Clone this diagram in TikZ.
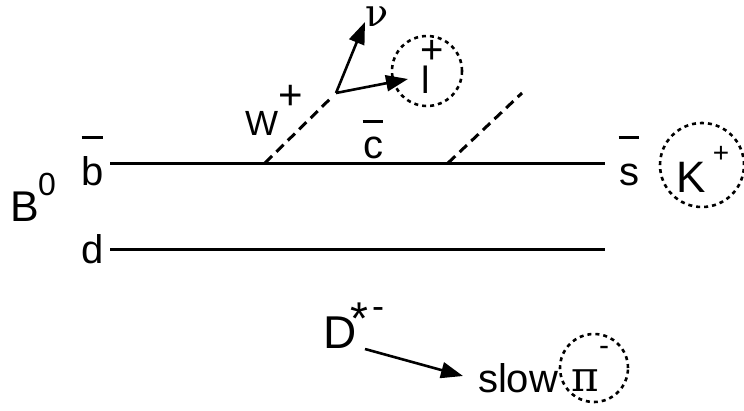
\documentclass[tikz,border=0pt]{standalone}
\usepackage{fontspec}
\setmainfont{Liberation Sans}
\newfontfamily\greekfont{DejaVu Serif}
\usetikzlibrary{arrows.meta}

% bar over an anti-quark letter, #1 = height of the bar
\newcommand{\antiq}[2][1.15em]{%
  \setbox0\hbox{#2}%
  \rlap{\hbox to \wd0{\hss\raisebox{#1}{\rule{0.52em}{2.8pt}}\hss}}\box0}
\newcommand{\fs}[1]{\fontsize{#1}{#1}\selectfont}

\begin{document}
\begin{tikzpicture}[
  x=1pt,
  y=-1pt,
  every node/.style={inner sep=0pt, outer sep=0pt},
  quark/.style={font=\fs{40}, anchor=base west},
  hadron/.style={font=\fs{44}, anchor=base west},
  charge/.style={anchor=center},
  line/.style={line width=3pt},
  boson/.style={line width=3pt, dash pattern=on 10pt off 6pt},
  blob/.style={
    draw,
    circle,
    line width=2.6pt,
    dash pattern=on 4pt off 4pt
  },
  arrow/.style={-{Triangle[length=22pt,width=16pt]}, line width=2.6pt}
]
  \useasboundingbox (0,0) rectangle (744,410);

  % The B meson and its quark lines.
  \node[hadron, font=\fs{43}] (bmeson) at (10,221) {B};
  \node[charge, font=\fs{32}] (bzero) at (47,184) {0};
  \node[quark] (bbar) at (81,185) {\antiq{b}};
  \node[quark] (dq) at (81,263) {d};
  \node[quark] (sbar) at (619,185) {\antiq{s}};

  \coordinate (bstart) at (110,163);
  \coordinate (bstop) at (605,163);
  \coordinate (dstart) at (110,249);
  \coordinate (dstop) at (605,249);
  \draw[line] (bstart) -- (bstop);
  \draw[line] (dstart) -- (dstop);

  % W emission and the charm line.
  \coordinate (wfoot) at (265,163);
  \coordinate (wvtx) at (336,93);
  \coordinate (cfoot) at (448,163);
  \coordinate (ctop) at (522,93);
  \draw[boson, shorten >=4pt] (wfoot) -- (wvtx);
  \draw[boson] (cfoot) -- (ctop);

  \node[hadron, font=\fs{35}] (wlabel) at (245,135) {W};
  \node[charge, font=\fs{42}] (wplus) at (291,97) {+};
  \node[quark] (cbar) at (363,158) {\antiq[0.87em]{c}};

  % Semileptonic decay of the W.
  \node[anchor=base west, font=\greekfont\fs{38}] (nu) at (365,26) {ν};
  \node[quark, font=\fs{38}] (lep) at (421,93) {l};
  \node[charge, font=\fs{40}] (lplus) at (432,52) {+};
  \node[blob, minimum size=70pt] (lblob) at (427,71) {};
  \coordinate (nutip) at (365,22);
  \coordinate (leptip) at (408,79);
  \draw[arrow] (wvtx) -- (nutip);
  \draw[arrow] (wvtx) -- (leptip);

  % The kaon.
  \node[hadron] (kaon) at (676,192) {K};
  \node[charge, font=\fs{28}] (kplus) at (721,154) {+};
  \node[blob, minimum size=84pt] (kblob) at (702,165) {};

  % D* decay to the slow pion.
  \node[hadron, font=\fs{46}] (dstar) at (323,348) {D};
  \node[charge, font=\fs{46}] (dast) at (359,319) {*};
  \node[charge, font=\fs{36}] (dminus) at (378,313) {-};
  \coordinate (dtail) at (365,349);
  \coordinate (pitip) at (463,376);
  \draw[arrow] (dtail) -- (pitip);

  \node[quark, font=\fs{40}] (slow) at (478,392) {slow};
  \node[anchor=base west, font=\greekfont\fs{42}] (pion) at (571,391) {π};
  \node[charge, font=\fs{30}] (piminus) at (604,351) {-};
  \node[blob, minimum size=68pt] (piblob) at (594,368) {};
\end{tikzpicture}
\end{document}
